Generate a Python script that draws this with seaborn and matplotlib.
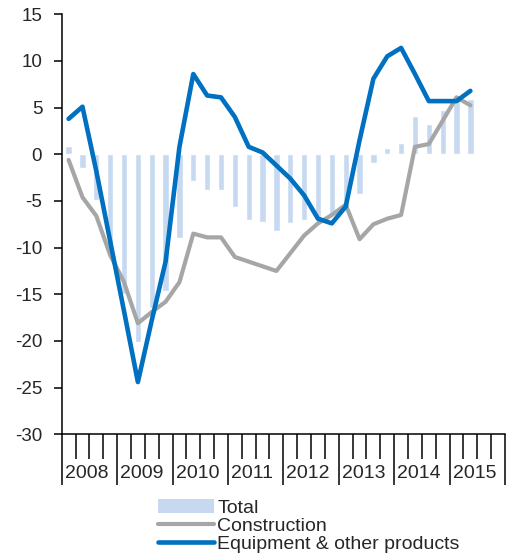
import matplotlib
matplotlib.use("Agg")
import matplotlib.pyplot as plt
import seaborn as sns
import numpy as np
from matplotlib.patches import Patch
from matplotlib.lines import Line2D
from matplotlib.transforms import blended_transform_factory

# Quarterly data, 2008Q1 - 2015Q2
years = [2008, 2009, 2010, 2011, 2012, 2013, 2014, 2015]
quarters = [f"{y}Q{q}" for y in years for q in range(1, 5)][:30]

total = [0.9, -1.5, -4.9, -10.5, -15.0, -20.1, -16.5, -14.6, -9.0, -2.9,
         -3.8, -3.8, -5.6, -7.0, -7.2, -8.2, -7.4, -7.0, -7.0, -6.5,
         -5.8, -4.3, -0.9, 0.7, 1.25, 4.1, 3.3, 4.7, 6.1, 5.9]
construction = [-0.6, -4.6, -6.6, -10.8, -13.7, -18.1, -16.9, -15.8, -13.7, -8.5,
                -8.9, -8.9, -11.0, -11.5, -12.0, -12.5, -10.6, -8.7, -7.4, -6.5,
                -5.4, -9.1, -7.5, -6.9, -6.5, 0.8, 1.1, 3.6, 6.1, 5.25]
equipment = [3.8, 5.1, -1.8, -9.3, -16.8, -24.4, -17.8, -11.5, 0.8, 8.6,
             6.3, 6.1, 4.0, 0.8, 0.2, -1.2, -2.6, -4.4, -6.9, -7.4,
             -5.6, 1.5, 8.1, 10.5, 11.4, 8.6, 5.7, 5.7, 5.7, 6.8]

sns.set_style("ticks")
plt.rcParams['font.family'] = ['Liberation Sans', 'DejaVu Sans']
plt.rcParams['axes.unicode_minus'] = False

bar_color = "#C6D9F1"
grey = "#A6A6A6"
blue = "#0070C0"

fig = plt.figure(figsize=(5.11, 5.55), dpi=100)
ax = fig.add_axes([0.1207, 0.2175, 0.8676, 0.7567])

xs = np.arange(len(quarters))
sns.barplot(x=xs, y=total, color=bar_color, saturation=1, width=0.45, ax=ax)
sns.lineplot(x=xs, y=construction, color=grey, linewidth=3.0, ax=ax)
sns.lineplot(x=xs, y=equipment, color=blue, linewidth=3.3, ax=ax)

ax.set_xlim(-0.5, 4 * len(years) - 0.5)
ax.set_ylim(-30, 15)
ax.set_yticks(range(-30, 16, 5))
ax.tick_params(axis="y", length=6, width=1.1, pad=8, labelsize=13.5, color="black")

# quarter ticks (short) and year separators (long)
ax.set_xticks([q - 0.5 for q in range(4 * len(years) + 1) if q % 4 == 0])
ax.set_xticks([q - 0.5 for q in range(4 * len(years) + 1) if q % 4 != 0], minor=True)
ax.tick_params(axis="x", which="major", length=37, width=1.1, labelbottom=False, color="black")
ax.tick_params(axis="x", which="minor", length=18, width=1.1, color="black")
ax.set_xlabel("")
ax.set_ylabel("")

trans = blended_transform_factory(ax.transData, ax.transAxes)
for k, y in enumerate(years):
    ax.text(4 * k - 0.5 + 0.22, -0.0945, str(y), transform=trans, ha="left",
            va="center", fontsize=14)

for side in ["top", "right"]:
    ax.spines[side].set_visible(False)
for side in ["left", "bottom"]:
    ax.spines[side].set_linewidth(1.1)
    ax.spines[side].set_color("black")

handles = [Patch(facecolor=bar_color, edgecolor="none"),
           Line2D([], [], color=grey, linewidth=3.0),
           Line2D([], [], color=blue, linewidth=3.3)]
labels = ["Total", "Construction", "Equipment & other products"]
if ax.get_legend() is not None:
    ax.get_legend().remove()
fig.legend(handles, labels, loc="upper left", bbox_to_anchor=(158 / 511, 1 - 499 / 555),
           frameon=False, fontsize=14, handlelength=2.9, handletextpad=0.15,
           labelspacing=0.02, borderpad=0, borderaxespad=0)

fig.savefig("out.png", dpi=100)
